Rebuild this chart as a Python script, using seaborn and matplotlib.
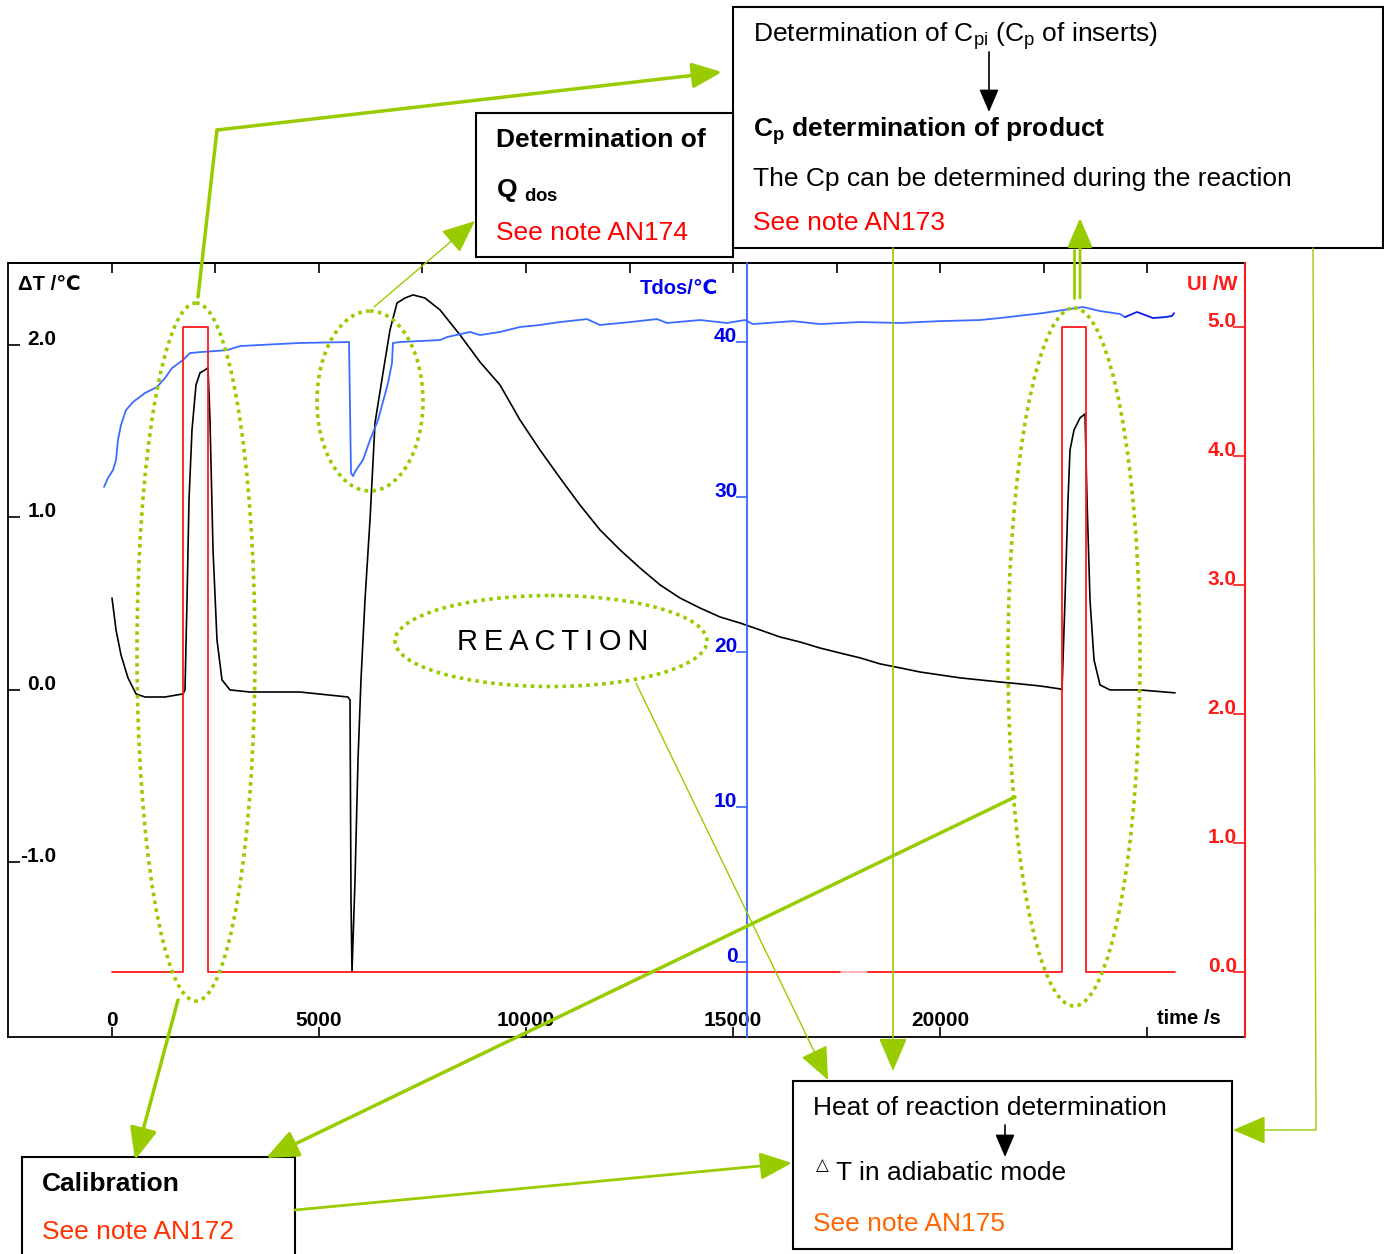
import matplotlib
matplotlib.use('Agg')
import matplotlib.pyplot as plt
import seaborn as sns
from matplotlib.patches import Rectangle, Ellipse

sns.set_theme(style='white')
plt.rcParams['font.family'] = ['Liberation Sans', 'DejaVu Sans']
plt.rcParams['mathtext.fontset'] = 'custom'
plt.rcParams['mathtext.rm'] = 'Liberation Sans'
plt.rcParams['mathtext.bf'] = 'Liberation Sans:bold'
plt.rcParams['mathtext.it'] = 'Liberation Sans:italic'

# delta T (black), time in s
dt_time = [0, 97, 217, 386, 580, 797, 1280, 1715, 1763, 1812, 1860, 1932,
           2029, 2126, 2246, 2319, 2367, 2440, 2536, 2657, 2850, 3333, 4541,
           5700, 5749, 5773, 5797, 5870, 5942, 6014, 6111, 6232, 6353, 6546,
           6715, 6884, 7077, 7271, 7560, 7923, 8406, 8889, 9372, 9855, 10338,
           10821, 11304, 11787, 12271, 12754, 13237, 13720, 14203, 14686,
           15169, 15652, 16135, 16618, 17101, 17585, 18068, 18551, 19034,
           19517, 20000, 20483, 20966, 21449, 21932, 22415, 22899, 22947,
           23019, 23092, 23140, 23237, 23382, 23502, 23551, 23623, 23720,
           23865, 24106, 24831, 25676]
dt_vals = [0.533, 0.348, 0.203, 0.070, -0.023, -0.041, -0.041, -0.023, 0.0,
           0.522, 1.101, 1.507, 1.768, 1.838, 1.855, 1.867, 1.565, 0.812,
           0.290, 0.058, 0.0, -0.012, -0.012, -0.041, -0.058, -1.217, -1.635,
           -1.101, -0.406, 0.058, 0.522, 0.986, 1.548, 1.838, 2.087, 2.243,
           2.272, 2.290, 2.272, 2.203, 2.058, 1.901, 1.768, 1.565, 1.391,
           1.229, 1.072, 0.928, 0.812, 0.707, 0.609, 0.533, 0.475, 0.423,
           0.388, 0.348, 0.307, 0.278, 0.243, 0.214, 0.186, 0.151, 0.128,
           0.104, 0.087, 0.070, 0.058, 0.046, 0.035, 0.023, 0.006, 0.0,
           0.522, 1.101, 1.391, 1.507, 1.577, 1.600, 1.101, 0.522, 0.174,
           0.029, 0.0, 0.0, -0.017]

# dosing temperature (blue)
tdos_time = [-193, -97, 24, 97, 145, 217, 338, 507, 797, 1087, 1280, 1449,
             1715, 1884, 2126, 2488, 2778, 3092, 3575, 4541, 5725, 5773, 5821,
             5894, 6063, 6232, 6425, 6667, 6763, 6787, 6957, 7923, 8092, 8647,
             8889, 9372, 9855, 10338, 10821, 11473, 11787, 12512, 13164, 13406,
             14203, 14855, 15290, 15483, 16449, 17101, 18068, 19034, 20000,
             20966, 21449, 22488, 23454, 23865, 24348, 24469]
tdos_vals = [30.65, 31.23, 31.74, 32.39, 33.68, 34.65, 35.61, 36.13, 36.71,
             37.10, 37.68, 38.32, 38.84, 39.29, 39.35, 39.42, 39.48, 39.74,
             39.81, 39.94, 40.0, 31.55, 31.35, 31.74, 32.39, 33.68, 34.97,
             37.35, 38.65, 39.94, 40.0, 40.13, 40.32, 40.65, 40.45, 40.65,
             40.97, 41.10, 41.29, 41.48, 41.10, 41.29, 41.48, 41.23, 41.42,
             41.23, 41.42, 41.16, 41.35, 41.16, 41.29, 41.23, 41.35, 41.42,
             41.55, 41.87, 42.26, 42.00, 41.81, 41.61]
tdos_tail_time = [24469, 24758, 25145, 25435, 25604, 25652]
tdos_tail_vals = [41.61, 41.94, 41.55, 41.61, 41.68, 41.87]

# heater power (red)
power_time = [0, 1715, 1715, 2319, 2319, 17600]
power_vals = [0, 0, 5, 5, 0, 0]
power_gap_time = [17600, 18250]
power_gap_vals = [0, 0]
power_time2 = [18250, 22947, 22947, 23527, 23527, 25676]
power_vals2 = [0, 0, 5, 5, 0, 0]

x_ticks = [0, 5000, 10000, 15000, 20000, 25000]
x_labels = ['0', '5000', '10000', '15000', '20000', '']
top_ticks = list(range(0, 25001, 2500))
dt_ticks = [-1, 0, 1, 2]
dt_labels = ['-1.0', '0.0', '1.0', '2.0']
tdos_ticks = [0, 10, 20, 30, 40]
power_ticks = [0, 1, 2, 3, 4, 5]
power_labels = ['0.0', '1.0', '2.0', '3.0', '4.0', '5.0']

W, H = 1384, 1254
GREEN = '#99cc00'
BLUE_TXT = '#0000ee'
RED = '#ff1a1a'
TICK_FS = 15

fig = plt.figure(figsize=(W / 100, H / 100), dpi=100)
fig.patch.set_facecolor('white')

# main chart area
x0, x1, y0, y1 = 8, 1245, 263, 1037
ax = fig.add_axes([x0 / W, (H - y1) / H, (x1 - x0) / W, (y1 - y0) / H])
ax.set_facecolor('white')
ax.set_xlim(-2512, 27367)
ax.set_ylim(-2.012, 2.475)
for s in ['left', 'top', 'bottom']:
    ax.spines[s].set_color('black')
    ax.spines[s].set_linewidth(1.3)
ax.spines['right'].set_visible(False)
sns.lineplot(x=dt_time, y=dt_vals, ax=ax, color='black', lw=1.2,
             estimator=None, sort=False)
ax.set_xticks(x_ticks, x_labels, fontweight='bold', fontsize=TICK_FS,
              color='black')
ax.set_yticks(dt_ticks, dt_labels, fontweight='bold', fontsize=TICK_FS,
              color='black')
ax.tick_params(axis='x', bottom=True, direction='in', length=7, width=1.2,
               color='black', pad=-18.5)
ax.tick_params(axis='y', left=True, direction='in', length=8.5, width=1.2,
               color='black', pad=-35)
for lbl in ax.get_yticklabels():
    lbl.set_va('baseline')
ax.set_xlabel('')
ax.set_ylabel('')

sec = ax.secondary_xaxis('top')
sec.set_xticks(top_ticks)
sec.set_xticklabels([])
sec.tick_params(axis='x', top=True, direction='in', length=7, width=1.2,
                color='black')
sec.spines['top'].set_color('black')
sec.spines['top'].set_linewidth(1.3)

# dosing temperature axis (blue, in the middle)
axb = ax.twinx()
axb.set_ylim(-4.84, 45.1)
for s in ['left', 'top', 'bottom']:
    axb.spines[s].set_visible(False)
axb.spines['right'].set_position(('axes', (747 - x0) / (x1 - x0)))
axb.spines['right'].set_color('#3366ff')
axb.spines['right'].set_linewidth(1.3)
sns.lineplot(x=tdos_time, y=tdos_vals, ax=axb, color='#3b6cff', lw=1.3,
             estimator=None, sort=False)
sns.lineplot(x=tdos_tail_time, y=tdos_tail_vals, ax=axb, color='#0a1ee6',
             lw=1.3, estimator=None, sort=False)
axb.set_yticks(tdos_ticks, [str(t) for t in tdos_ticks], fontweight='bold',
               fontsize=TICK_FS, color=BLUE_TXT)
axb.tick_params(axis='y', right=True, direction='in', length=8, width=1.2,
                color='#3366ff', pad=-7)
for lbl in axb.get_yticklabels():
    lbl.set_ha('right')
    lbl.set_va('baseline')
axb.set_ylabel('')

# heater power axis (red, right)
axr = ax.twinx()
axr.set_ylim(-0.504, 5.496)
for s in ['left', 'top', 'bottom']:
    axr.spines[s].set_visible(False)
axr.spines['right'].set_color(RED)
axr.spines['right'].set_linewidth(1.5)
sns.lineplot(x=power_time, y=power_vals, ax=axr, color=RED, lw=1.3,
             estimator=None, sort=False)
sns.lineplot(x=power_gap_time, y=power_gap_vals, ax=axr, color='#ffaaaa',
             lw=1.3, estimator=None, sort=False)
sns.lineplot(x=power_time2, y=power_vals2, ax=axr, color=RED, lw=1.3,
             estimator=None, sort=False)
axr.set_yticks(power_ticks, power_labels, fontweight='bold', fontsize=TICK_FS,
               color=RED)
axr.tick_params(axis='y', right=True, direction='in', length=8.5, width=1.2,
                color=RED, pad=-6)
for lbl in axr.get_yticklabels():
    lbl.set_ha('right')
    lbl.set_va('baseline')
axr.set_ylabel('')
axr.set_xlim(-2512, 27367)

# overlay in pixel coordinates for notes
ov = fig.add_axes([0, 0, 1, 1])
ov.set_xlim(0, W)
ov.set_ylim(H, 0)
ov.axis('off')
ov.patch.set_alpha(0)

ov.text(18, 285, 'ΔT /℃', fontsize=14.5, fontweight='bold', color='black',
        va='center', ha='left')
ov.text(640, 288, 'Tdos/℃', fontsize=14.5, fontweight='bold', color=BLUE_TXT,
        va='center', ha='left')
ov.text(1187, 285, 'UI /W', fontsize=14.5, fontweight='bold', color=RED,
        va='center', ha='left')
ov.text(1157, 1019, 'time /s', fontsize=14.5, fontweight='bold',
        color='black', va='center', ha='left')

# ellipses
dot = (0, (1, 1.2))
for (cx, cy, ew, eh) in [(196, 652, 118, 698), (370, 401, 106, 180),
                         (551, 641, 312, 91), (1074, 657, 132, 698)]:
    ov.add_patch(Ellipse((cx, cy), ew, eh, fill=False, ec=GREEN, lw=2.6,
                         ls=dot))
ov.text(553, 642, '\u2009'.join('REACTION'), fontsize=21, color='black',
        ha='center', va='center')

# boxes
for (bx, by, bw, bh) in [(733, 7, 650, 241), (476, 113, 257, 144),
                         (793, 1081, 439, 168), (22, 1157, 273, 110)]:
    ov.add_patch(Rectangle((bx, by), bw, bh, fill=True, fc='white',
                           ec='black', lw=1.5, zorder=3))

fs = 19
ov.text(753, 36, r'Determination of C$_\mathrm{pi}$ (C$_\mathrm{p}$ of inserts)',
        fontsize=fs, va='center', ha='left', color='black', zorder=4)
ov.text(753, 131, r'C$_\mathbf{p}$ determination of product', fontsize=fs,
        fontweight='bold', va='center', ha='left', color='black', zorder=4)
ov.text(753, 179, 'The Cp can be determined during the reaction', fontsize=fs,
        va='center', ha='left', color='black', zorder=4)
ov.text(753, 223, 'See note AN173', fontsize=fs, va='center', ha='left',
        color='#ff0000', zorder=4)

ov.text(496, 140, 'Determination of', fontsize=fs, fontweight='bold',
        va='center', ha='left', color='black', zorder=4)
ov.text(496, 190, r'Q $_\mathbf{dos}$', fontsize=fs, fontweight='bold',
        va='center', ha='left', color='black', zorder=4)
ov.text(496, 233, 'See note AN174', fontsize=fs, va='center', ha='left',
        color='#ff0000', zorder=4)

ov.text(813, 1108, 'Heat of reaction determination', fontsize=fs,
        va='center', ha='left', color='black', zorder=4)
ov.text(816, 1166, '△', fontsize=12, va='center', ha='left', color='black',
        zorder=4)
ov.text(836, 1173, 'T in adiabatic mode', fontsize=fs, va='center',
        ha='left', color='black', zorder=4)
ov.text(813, 1224, 'See note AN175', fontsize=fs, va='center', ha='left',
        color='#ff6600', zorder=4)

ov.text(42, 1184, 'Calibration', fontsize=fs, fontweight='bold',
        va='center', ha='left', color='black', zorder=4)
ov.text(42, 1232, 'See note AN172', fontsize=fs, va='center', ha='left',
        color='#ff3300', zorder=4)

# black arrows inside boxes
for (ax_, ay0, ay1) in [(989, 52, 112), (1005, 1125, 1157)]:
    ov.annotate('', xy=(ax_, ay1), xytext=(ax_, ay0), zorder=5,
                arrowprops=dict(arrowstyle='-|>,head_length=0.7,head_width=0.3',
                                color='black', lw=1.2, shrinkA=0, shrinkB=0,
                                mutation_scale=20))


def green_arrow(tail, head, lw, scale):
    ov.annotate('', xy=head, xytext=tail, zorder=6,
                arrowprops=dict(arrowstyle='-|>,head_length=0.7,head_width=0.3',
                                color=GREEN, lw=lw, shrinkA=0, shrinkB=0,
                                mutation_scale=scale))


# green connectors
ov.plot([198, 217], [297, 130], color=GREEN, lw=2.5, zorder=6)
green_arrow((217, 130), (722, 72), 2.5, 26)
green_arrow((374, 307), (475, 221), 1.0, 30)
ov.plot([1074, 1074], [298, 250], color=GREEN, lw=2, zorder=6)
green_arrow((1080, 298), (1080, 218), 2, 26)
green_arrow((893, 248), (893, 1071), 1.2, 30)
ov.plot([1313, 1316, 1280], [248, 1130, 1130], color=GREEN, lw=1.0, zorder=6)
green_arrow((1280, 1130), (1233, 1130), 1.0, 30)
green_arrow((636, 683), (828, 1080), 1.0, 30)
green_arrow((178, 1000), (135, 1160), 2.5, 28)
green_arrow((1015, 797), (266, 1158), 2.5, 28)
green_arrow((295, 1210), (792, 1163), 2.0, 28)

fig.savefig('out.png', dpi=100, facecolor='white')
